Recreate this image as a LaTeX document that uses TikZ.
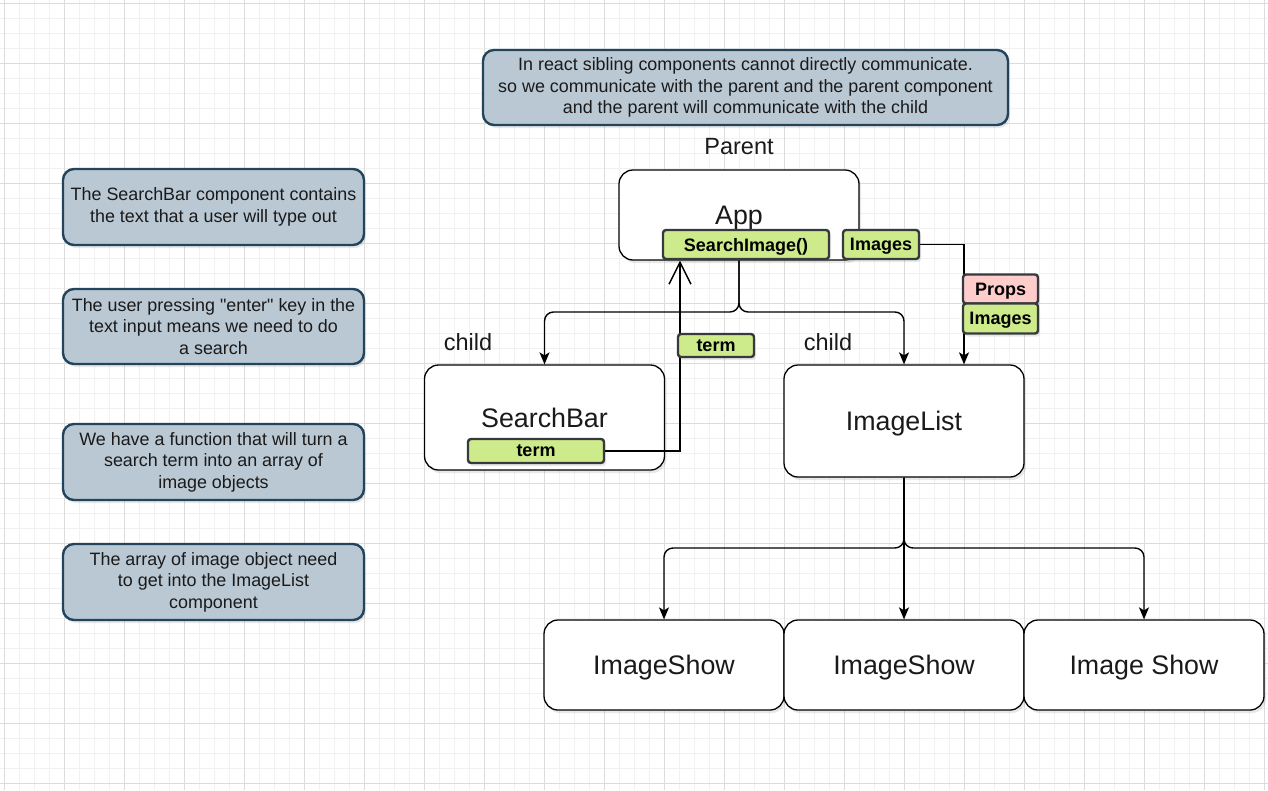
\documentclass[tikz,border=0pt]{standalone}
\usepackage{fontspec}
\setmainfont{Liberation Sans}[Ligatures=TeXOff]
\usetikzlibrary{arrows.meta,shadows,calc}
\definecolor{notefill}{HTML}{BAC8D3}
\definecolor{notedraw}{HTML}{23445D}
\definecolor{pillfill}{HTML}{CDEB8B}
\definecolor{pilldraw}{HTML}{36393D}
\definecolor{propfill}{HTML}{FFCCCC}
\definecolor{gridminor}{HTML}{F1F1F1}
\definecolor{gridmajor}{HTML}{DCDCDC}
\definecolor{txt}{HTML}{1A1A1A}
\begin{document}
\begin{tikzpicture}[x=1pt,y=-1pt,
 shade/.style={drop shadow={shadow xshift=2pt,shadow yshift=-3pt,opacity=0.18}},
 note/.style={shade, draw=notedraw, fill=notefill, line width=2.4pt, rounded corners=11pt, align=center, text=txt, font=\fontsize{17.9}{21.5}\selectfont, inner sep=0pt},
 comp/.style={shade, draw=black, fill=white, line width=1.3pt, rounded corners=14pt, inner sep=0pt, text=txt, text depth=0pt, font=\fontsize{26.8}{30}\selectfont},
 pill/.style={shade, draw=pilldraw, fill=pillfill, line width=2.4pt, rounded corners=3pt, inner sep=0pt, text depth=0pt, font=\fontsize{18}{20}\selectfont\bfseries},
 lbl/.style={font=\fontsize{23.5}{27}\selectfont, inner sep=0pt, text=txt},
 conn/.style={line width=1.4pt, rounded corners=9pt, -{Stealth[length=12pt,width=10pt,inset=3pt]}},
 openconn/.style={line width=1.4pt, -{Straight Barb[length=22pt,width=22pt]}},
]
\useasboundingbox (0,0) rectangle (1268,790);
\fill[white] (0,0) rectangle (1268,790);
% grid
\foreach \x in {4,19,...,1268} \draw[gridminor, line width=1pt] (\x,0) -- (\x,790);
\foreach \y in {3,18,...,790} \draw[gridminor, line width=1pt] (0,\y) -- (1268,\y);
\foreach \x in {4,64,...,1268} \draw[gridmajor, line width=1pt] (\x,0) -- (\x,790);
\foreach \y in {3,63,...,790} \draw[gridmajor, line width=1pt] (0,\y) -- (1268,\y);

% notes
\node[note, minimum width=525pt, minimum height=75pt] (topnote) at (745.5,87.5) {In react sibling components cannot directly communicate.\\so we communicate with the parent and the parent component\\and the parent will communicate with the child};
\node[note, minimum width=301pt, minimum height=76pt] (n1) at (213.5,207) {The SearchBar component contains\\the text that a user will type out};
\node[note, minimum width=301pt, minimum height=75pt] (n2) at (213.5,326.5) {The user pressing "enter" key in the\\text input means we need to do\\a search};
\node[note, minimum width=301pt, minimum height=76pt] (n3) at (213.5,462) {We have a function that will turn a\\search term into an array of\\image objects};
\node[note, minimum width=301pt, minimum height=76pt] (n4) at (213.5,582) {The array of image object need\\to get into the ImageList\\component};

% labels
\node[lbl] (parent) at (739,147) {Parent};
\node[lbl] (child1) at (468,342) {child};
\node[lbl] (child2) at (828,342) {child};

% components
\node[comp, minimum width=240pt, minimum height=90pt] (app) at (739,215) {App};
\node[comp, minimum width=240pt, minimum height=105pt] (sbar) at (544.5,417.5) {SearchBar};
\node[comp, minimum width=240pt, minimum height=112pt] (ilist) at (904,421) {ImageList};
\node[comp, minimum width=240pt, minimum height=90pt] (is1) at (664,665) {ImageShow};
\node[comp, minimum width=240pt, minimum height=90pt] (is2) at (904,665) {ImageShow};
\node[comp, minimum width=240pt, minimum height=90pt] (is3) at (1144,665) {Image Show};

% pills
\node[pill, minimum width=166pt, minimum height=29pt] (search) at (746,244.5) {SearchImage()};
\node[pill, minimum width=76pt, minimum height=29pt] (imgs) at (881,244.5) {Images};
\node[pill, minimum width=136pt, minimum height=24pt] (term1) at (536,451) {term};

% connectors
\coordinate (split1) at (739,312);
\draw[conn] (app.south) -- (split1) -| (sbar.north);
\draw[conn] (app.south) -- (split1) -| (ilist.north);
\draw[conn, rounded corners=0pt] (imgs.east) -| ([xshift=60pt]ilist.north);
\draw[openconn] (term1.east) -| ([xshift=-59pt]app.south);
\coordinate (split2) at (904,548);
\draw[conn] (ilist.south) -- (split2) -| (is1.north);
\draw[conn] (ilist.south) -- (is2.north);
\draw[conn] (ilist.south) -- (split2) -| (is3.north);

% pills on connectors
\node[pill, fill=propfill, minimum width=75pt, minimum height=29pt] (props) at (1000.5,289) {Props};
\node[pill, minimum width=75pt, minimum height=30pt] (imgs2) at (1000.5,318.5) {Images};
\node[pill, minimum width=76pt, minimum height=23pt] (term2) at (716,345.5) {term};
\end{tikzpicture}
\end{document}
